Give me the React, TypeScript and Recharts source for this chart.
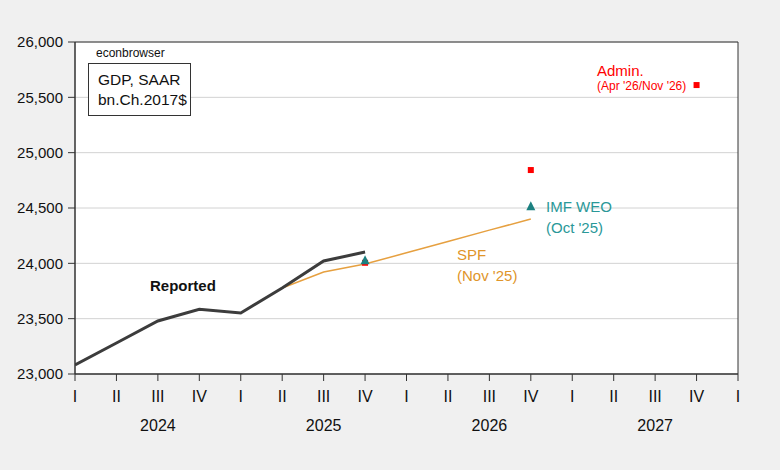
import React from "react";
import {
  ComposedChart,
  Line,
  Scatter,
  XAxis,
  YAxis,
  CartesianGrid,
  ReferenceArea,
} from "recharts";

// Quarter index: 0 = 2024 Q1 ... 16 = 2028 Q1
const quarterTicks = [0, 1, 2, 3, 4, 5, 6, 7, 8, 9, 10, 11, 12, 13, 14, 15, 16];
const quarterNames = ["I", "II", "III", "IV"];
const years = ["2024", "2025", "2026", "2027"];
const yTicks = [23000, 23500, 24000, 24500, 25000, 25500, 26000];

const reportedQ = [0, 1, 2, 3, 4, 5, 6, 7];
const reportedV = [23081, 23280, 23479, 23585, 23551, 23777, 24021, 24102];

const spfQ = [5, 6, 7, 8, 9, 10, 11];
const spfV = [23777, 23922, 23994, 24095, 24198, 24300, 24400];

const imfQ = [7, 11];
const imfV = [24028, 24515];

const adminQ = [7, 11, 15];
const adminV = [24005, 24843, 25611];

const toXY = (qs: number[], vs: number[]) => qs.map((q, i) => ({ x: q, y: vs[i] }));
const reportedData = toXY(reportedQ, reportedV);
const spfData = toXY(spfQ, spfV);
const imfData = toXY(imfQ, imfV);
const adminData = toXY(adminQ, adminV);

const FONT = "'Liberation Sans', Arial, sans-serif";

const QuarterTick = (props: any) => {
  const { x, y, payload } = props;
  const v = payload.value as number;
  const name = quarterNames[v % 4];
  const yearIdx = (v - 2) / 4;
  return (
    <g>
      <text x={x} y={y} dy={21} textAnchor="middle" fontSize={16} fill="#111" fontFamily={FONT}>
        {name}
      </text>
      {v % 4 === 2 && years[yearIdx] ? (
        <text x={x} y={y} dy={50} textAnchor="middle" fontSize={16} fill="#111" fontFamily={FONT}>
          {years[yearIdx]}
        </text>
      ) : null}
    </g>
  );
};

const Triangle = (props: any) => {
  const { cx, cy } = props;
  if (cx == null || cy == null) return null;
  return (
    <path
      d={`M${cx},${cy - 5} L${cx + 4.5},${cy + 4} L${cx - 4.5},${cy + 4} Z`}
      fill="#1b8080"
    />
  );
};

const Square = (props: any) => {
  const { cx, cy } = props;
  if (cx == null || cy == null) return null;
  return <rect x={cx - 3} y={cy - 3} width={6} height={6} fill="#ff0000" />;
};

export default function App() {
  return (
    <div
      style={{
        position: "absolute",
        left: 0,
        top: 0,
        width: 780,
        height: 470,
        background: "#f0f0f0",
        fontFamily: FONT,
      }}
    >
      <ComposedChart width={780} height={470} margin={{ top: 42, right: 42, bottom: 36, left: 0 }}>
        <CartesianGrid vertical={false} stroke="#d2d2d2" fill="#ffffff" />
        <XAxis
          type="number"
          dataKey="x"
          domain={[0, 16]}
          ticks={quarterTicks}
          interval={0}
          height={60}
          tickSize={7}
          tickMargin={0}
          tick={<QuarterTick />}
          axisLine={{ stroke: "#333" }}
          tickLine={{ stroke: "#333" }}
          allowDataOverflow
        />
        <YAxis
          type="number"
          domain={[23000, 26000]}
          ticks={yTicks}
          width={75}
          tickSize={7}
          tickMargin={5}
          tickFormatter={(v: number) => v.toLocaleString("en-US")}
          tick={{ fill: "#111", fontSize: 15, fontFamily: FONT }}
          axisLine={{ stroke: "#333" }}
          tickLine={{ stroke: "#333" }}
          allowDataOverflow
        />
        <ReferenceArea
          x1={0}
          x2={16}
          y1={23000}
          y2={26000}
          fill="#ffffff"
          fillOpacity={0}
          stroke="#333"
          strokeWidth={1}
        />
        <Line
          data={spfData}
          dataKey="y"
          stroke="#e6a040"
          strokeWidth={1.5}
          dot={false}
          activeDot={false}
          isAnimationActive={false}
        />
        <Line
          data={reportedData}
          dataKey="y"
          stroke="#3c3c3c"
          strokeWidth={3}
          dot={false}
          activeDot={false}
          isAnimationActive={false}
        />
        <Scatter data={adminData} dataKey="y" shape={<Square />} isAnimationActive={false} />
        <Scatter data={imfData} dataKey="y" shape={<Triangle />} isAnimationActive={false} />
      </ComposedChart>
      <svg
        width={780}
        height={470}
        style={{ position: "absolute", left: 0, top: 0, pointerEvents: "none" }}
        fontFamily={FONT}
      >
        <text x={96} y={57} fontSize={12} fill="#111">econbrowser</text>
        <rect x={88.5} y={63.5} width={102} height={52} fill="#fff" stroke="#333" strokeWidth={1} />
        <text x={98} y={85} fontSize={15.5} fill="#111">GDP, SAAR</text>
        <text x={98} y={105} fontSize={15.5} fill="#111">bn.Ch.2017$</text>
        <text x={150} y={291} fontSize={15} fontWeight="bold" fill="#111">Reported</text>
        <text x={457} y={260} fontSize={15} fill="#e0952a">SPF</text>
        <text x={457} y={281} fontSize={15} fill="#e0952a">(Nov '25)</text>
        <text x={546} y={212} fontSize={15} fill="#2a9898">IMF WEO</text>
        <text x={546} y={233} fontSize={15} fill="#2a9898">(Oct '25)</text>
        <text x={597} y={76} fontSize={15} fill="#ff0000">Admin.</text>
        <text x={597} y={90} fontSize={12} fill="#ff0000">(Apr '26/Nov '26)</text>
      </svg>
    </div>
  );
}
